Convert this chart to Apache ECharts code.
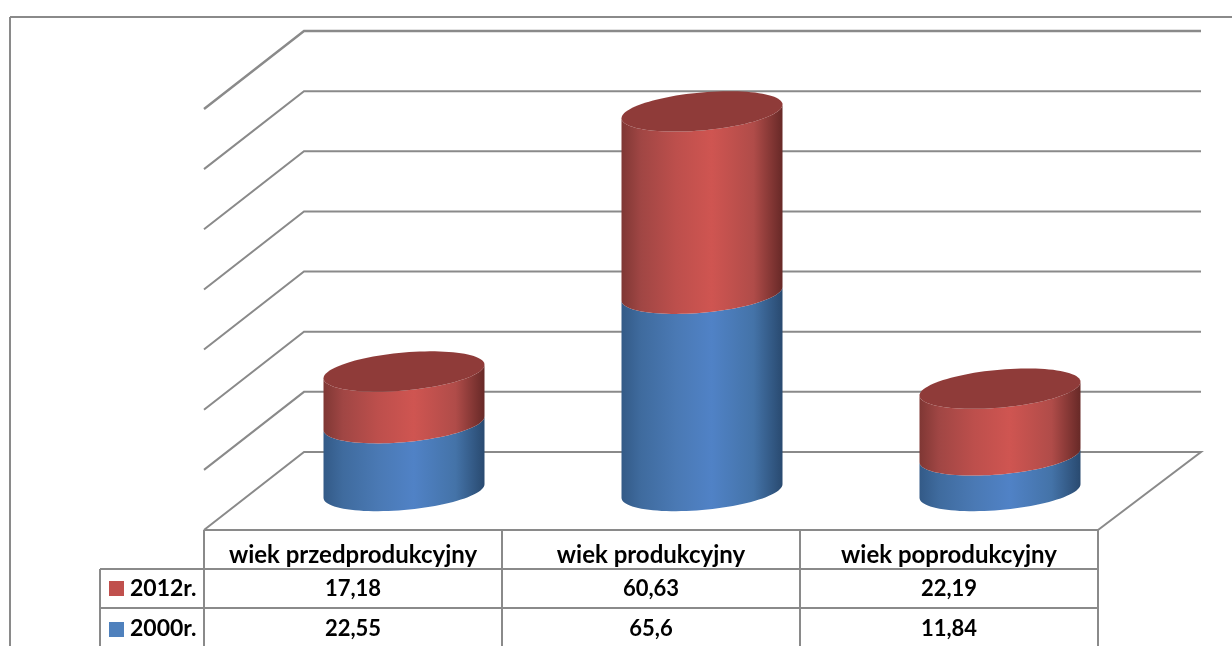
<!DOCTYPE html>
<html>
<head>
<meta charset="utf-8">
<style>html,body{margin:0;padding:0;background:#fff;overflow:hidden}#c{width:1232px;height:646px}</style>
<script src="https://cdn.jsdelivr.net/npm/echarts@6/dist/echarts.min.js"></script>
</head>
<body>
<div id="c"></div>
<script>
const categories = ['wiek przedprodukcyjny', 'wiek produkcyjny', 'wiek poprodukcyjny'];
const values2000 = [22.55, 65.6, 11.84];
const values2012 = [17.18, 60.63, 22.19];
const labels2000 = ['22,55', '65,6', '11,84'];
const labels2012 = ['17,18', '60,63', '22,19'];
const yTicks = [0, 20, 40, 60, 80, 100, 120, 140];

const FONT = 'Lato';
const FONT_SIZE = 24;
const NUM_SIZE = 22;
const ROW_SIZE = 23;
const LINE = '#8a8a8a';
const DX = 50, DY = 39;      // half of the floor depth in screen pixels
const BAR_SHIFT = 51;
const RX = 80.5, RY = 19, SHEAR = 0.085;

function ellipsePts(cx, cy, from, to, n) {
  const pts = [];
  for (let i = 0; i <= n; i++) {
    const t = from + (to - from) * i / n;
    const x = RX * Math.cos(t);
    pts.push([cx + x, cy + RY * Math.sin(t) - SHEAR * x]);
  }
  return pts;
}
function sideGradient(stops) {
  return {type: 'linear', x: 0, y: 0, x2: 1, y2: 0,
    colorStops: stops.map((c, i) => ({offset: [0, .12, .34, .56, .82, 1][i], color: c}))};
}
const BLUE = sideGradient(['#335a87', '#3f6b9e', '#4a79b4', '#5082c6', '#4473a8', '#294a70']);
const RED = sideGradient(['#7f3734', '#a04644', '#bd4f4c', '#cf5551', '#b04c49', '#672927']);

function cylinder(gradient, withTop) {
  return function (params, api) {
    const cat = api.value(0), base = api.value(1), top = api.value(2);
    const b = api.coord([cat, base]), t = api.coord([cat, top]);
    const cx = b[0] + BAR_SHIFT;
    const low = ellipsePts(cx, b[1], 0, Math.PI, 48);
    const high = ellipsePts(cx, t[1], Math.PI, 0, 48);
    const children = [{type: 'polygon', shape: {points: low.concat(high)}, style: {fill: gradient}}];
    if (withTop) {
      children.push({type: 'polygon',
        shape: {points: ellipsePts(cx, t[1], 0, Math.PI * 2, 96)},
        style: {fill: '#8f3b39'}});
    }
    return {type: 'group', children};
  };
}
function gridRender(params, api) {
  const v = api.value(0);
  const y = api.coord([0, v])[1];
  const s = params.coordSys;
  const pts = [[s.x, y + DY], [s.x + 2 * DX, y - DY], [s.x + s.width + 2 * DX + 3, y - DY]];
  if (v === yTicks[0]) pts.push([s.x + s.width, y + DY]);
  return {type: 'polyline',
    shape: {points: pts},
    style: {fill: null, stroke: LINE, lineWidth: v === yTicks[yTicks.length - 1] ? 2.4 : 2}};
}
function line(x1, y1, x2, y2) {
  return {type: 'line', shape: {x1, y1, x2, y2}, style: {stroke: LINE, lineWidth: 2}, silent: true};
}
function cell(text, x, y, align, size) {
  return {type: 'text', x, y, silent: true,
    style: {text, x: 0, y: 0, align: align || 'center', verticalAlign: 'middle',
      font: '700 ' + size + 'px ' + FONT, fill: '#000'}};
}

const colX = [204, 502, 800, 1098], rowY = [530, 569, 608], BOTTOM = 646;
const graphics = [
  line(10, 17, 1232, 17), line(10, 17, 10, BOTTOM),
  line(colX[0], rowY[0], colX[3], rowY[0]),
  line(100, rowY[1], colX[3], rowY[1]),
  line(100, rowY[2], colX[3], rowY[2]),
  line(100, rowY[1], 100, BOTTOM),
  line(colX[0], rowY[0], colX[0], BOTTOM), line(colX[1], rowY[0], colX[1], BOTTOM),
  line(colX[2], rowY[0], colX[2], BOTTOM), line(colX[3], rowY[0], colX[3], BOTTOM),
  {type: 'rect', shape: {x: 109, y: 581, width: 15, height: 15}, style: {fill: '#c0504d'}, silent: true},
  {type: 'rect', shape: {x: 109, y: 622, width: 15, height: 15}, style: {fill: '#4f81bd'}, silent: true},
  cell('2012r.', 130, 589, 'left', ROW_SIZE), cell('2000r.', 130, 629, 'left', ROW_SIZE)
];
categories.forEach((c, i) => {
  const cx = (colX[i] + colX[i + 1]) / 2;
  graphics.push(cell(labels2012[i], cx, 589, 'center', NUM_SIZE), cell(labels2000[i], cx, 629, 'center', NUM_SIZE));
});

const chart = echarts.init(document.getElementById('c'), null, {renderer: 'canvas'});
chart.setOption({
  animation: false,
  backgroundColor: '#fff',
  textStyle: {fontFamily: FONT},
  grid: {left: 204, width: 894, top: 70, height: 421},
  xAxis: {type: 'category', data: categories,
    axisLine: {show: false}, axisTick: {show: false}, splitLine: {show: false},
    axisLabel: {interval: 0, margin: 52, fontFamily: FONT, fontWeight: 700, fontSize: FONT_SIZE, color: '#000'}},
  yAxis: {type: 'value', min: 0, max: 140, interval: 20,
    axisLine: {show: false}, axisTick: {show: false}, axisLabel: {show: false}, splitLine: {show: false}},
  tooltip: {show: false},
  legend: {show: false},
  graphic: graphics,
  series: [
    {name: 'siatka', type: 'custom', silent: true, clip: false, z: 1,
      renderItem: gridRender, encode: {y: 0}, data: yTicks.map(v => [v])},
    {name: '2000r.', type: 'custom', silent: true, clip: false, z: 3,
      renderItem: cylinder(BLUE, false), encode: {x: 0, y: [1, 2]},
      data: categories.map((c, i) => [i, 0, values2000[i]])},
    {name: '2012r.', type: 'custom', silent: true, clip: false, z: 4,
      renderItem: cylinder(RED, true), encode: {x: 0, y: [1, 2]},
      data: categories.map((c, i) => [i, values2000[i], values2000[i] + values2012[i]])}
  ]
});
</script>
</body>
</html>
